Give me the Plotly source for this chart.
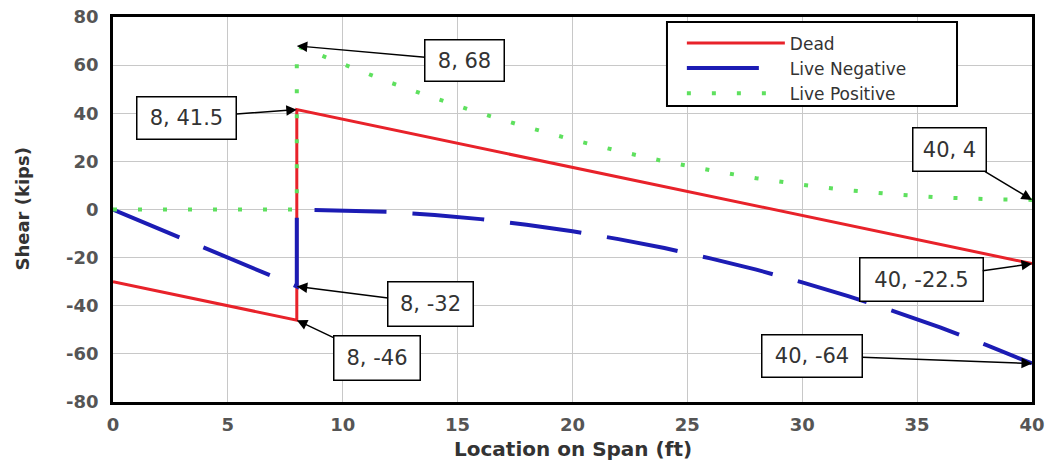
import plotly.graph_objects as go

# ---- data ----
dead_x = [0, 8, 8, 40]
dead_y = [-30, -46, 41.5, -22.5]

neg_x = [0, 8, 8, 10, 12, 14, 16, 18, 20, 22, 24, 26, 28, 30, 32, 34, 36, 38, 40]
neg_y = [0, -32, 0, -0.3, -1, -2.3, -4, -6.3, -9, -12.3, -16, -20.3, -25, -30.3, -36, -42.3, -49, -56.3, -64]

pos_x = [0, 8, 8, 10, 12, 14, 16, 18, 20, 22, 24, 26, 28, 30, 32, 34, 36, 38, 40]
pos_y = [0, 0, 68, 60.3, 53, 46.3, 40, 34.3, 29, 24.3, 20, 16.3, 13, 10.3, 8, 6.3, 5, 4.3, 4]

x_ticks = [0, 5, 10, 15, 20, 25, 30, 35, 40]
y_ticks = [-80, -60, -40, -20, 0, 20, 40, 60, 80]
y_tick_labels = ["-80", "-60", "-40", "-20", "0", "20", "40", "60", "80"]

callout_text = ["8, 41.5", "8, 68", "40, 4", "40, -22.5", "40, -64", "8, -32", "8, -46"]
callout_x = [8, 8, 40, 40, 40, 8, 8]
callout_y = [41.5, 68, 4, -22.5, -64, -32, -46]

TXT = "#333333"
TICK = "#555555"

fig = go.Figure()
fig.add_trace(go.Scatter(x=dead_x, y=dead_y, mode="lines", name="Dead",
                         line=dict(color="#e8222a", width=3)))
fig.add_trace(go.Scatter(x=neg_x, y=neg_y, mode="lines", name="Live Negative",
                         line=dict(color="#1c1cb4", width=4, dash="72px,26px")))
fig.add_trace(go.Scatter(x=pos_x, y=pos_y, mode="lines", name="Live Positive",
                         line=dict(color="#5ee05e", width=4, dash="4px,21px")))

offsets = {
    "8, 41.5": (-110, 8, 90, 33),
    "8, 68": (168, 15, 70, 32),
    "40, 4": (-83, -50, 64, 34),
    "40, -22.5": (-111, 16, 114, 34),
    "40, -64": (-220, -8, 91, 33),
    "8, -32": (134, 17, 76, 35),
    "8, -46": (80, 38, 77, 35),
}
for t, xv, yv in zip(callout_text, callout_x, callout_y):
    ax, ay, w, h = offsets[t]
    fig.add_annotation(x=xv, y=yv, xref="x", yref="y", text=t, showarrow=True,
                       ax=ax, ay=ay, arrowhead=2, arrowsize=1.4, arrowwidth=1.5,
                       arrowcolor="black", bgcolor="white", bordercolor="black",
                       borderwidth=1.5, borderpad=4, width=w, height=h,
                       font=dict(family="DejaVu Sans", size=21, color=TXT))

# axis titles placed as paper annotations
fig.add_annotation(x=0.5, y=-0.122, xref="paper", yref="paper", showarrow=False,
                   text="Location on Span (ft)", xanchor="center", yanchor="middle",
                   font=dict(family="DejaVu Sans", size=20, color=TXT, weight="bold"))
fig.add_annotation(x=-0.099, y=0.5, xref="paper", yref="paper", showarrow=False,
                   text="Shear (kips)", textangle=-90, xanchor="center", yanchor="middle",
                   font=dict(family="DejaVu Sans", size=18, color=TXT, weight="bold"))

# legend frame
fig.add_shape(type="rect", xref="paper", yref="paper", x0=0.6028, x1=0.9184,
              y0=0.7688, y1=0.987, layer="above", fillcolor="white",
              line=dict(color="black", width=2))

fig.update_layout(
    width=1050, height=461,
    margin=dict(l=113, r=18, t=17, b=59, autoexpand=False),
    plot_bgcolor="white", paper_bgcolor="white",
    showlegend=True,
    legend=dict(x=0.619, y=0.978, xanchor="left", yanchor="top",
                bgcolor="rgba(0,0,0,0)", borderwidth=0,
                font=dict(family="DejaVu Sans", size=17, color=TXT),
                itemwidth=98, tracegroupgap=0),
)
fig.update_xaxes(range=[0, 40], tickvals=x_ticks, showgrid=True, gridcolor="#c8c8c8",
                 gridwidth=1, showline=True, linecolor="black", linewidth=2.5, mirror=True,
                 zeroline=False, ticks="", ticklabelstandoff=5, automargin=False,
                 tickfont=dict(family="DejaVu Sans", size=18, color=TICK, weight="bold"))
fig.update_yaxes(range=[-80, 80], tickvals=y_ticks, ticktext=y_tick_labels,
                 showgrid=True, gridcolor="#c8c8c8",
                 gridwidth=1, showline=True, linecolor="black", linewidth=2.5, mirror=True,
                 zeroline=False, ticks="", ticklabelstandoff=8, automargin=False,
                 tickfont=dict(family="DejaVu Sans", size=18, color=TICK, weight="bold"))

fig.write_html("out.html", config={"displayModeBar": False},
               post_script="document.body.style.margin='0px';")
